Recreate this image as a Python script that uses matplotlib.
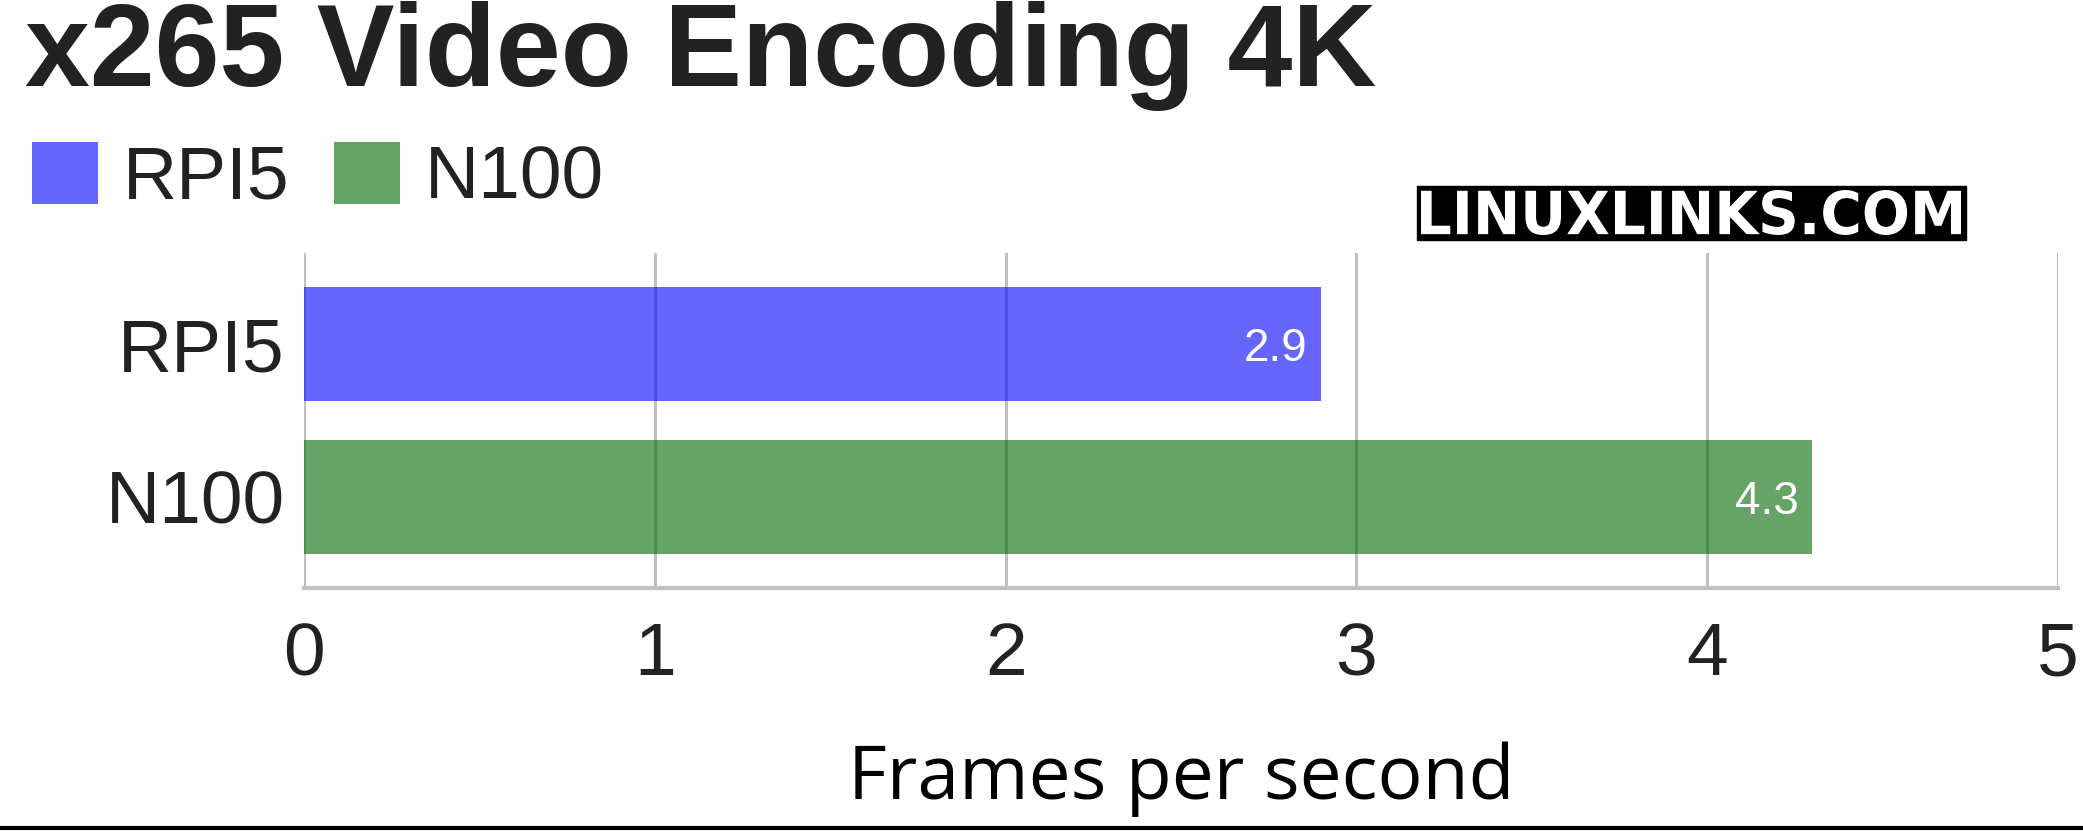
import matplotlib
matplotlib.use("Agg")
import matplotlib.pyplot as plt
from matplotlib.patches import Rectangle, PathPatch
from matplotlib.textpath import TextPath
from matplotlib.font_manager import FontProperties
from matplotlib.transforms import Affine2D

# data
systems = ["RPI5", "N100"]
fps = [2.9, 4.3]
colors = ["#0000ff", "#006600"]
xticks = [0, 1, 2, 3, 4, 5]

plt.rcParams["font.family"] = ["Liberation Sans", "DejaVu Sans"]
text_col = "#222222"
W, H = 2083, 831

fig = plt.figure(figsize=(W / 100, H / 100), dpi=100)
ax = fig.add_axes([304 / W, 1 - 588 / H, (2058 - 304) / W, (588 - 253) / H])

ypos = list(range(len(systems)))
bars = ax.barh(ypos, fps, height=0.75, color=colors, alpha=0.6, zorder=2)
for b, s in zip(bars, systems):
    b.set_label(s)

for y, v in zip(ypos, fps):
    ax.annotate(f"{v}", (v, y), xytext=(-10, 0), textcoords="offset points",
                ha="right", va="center_baseline", color="white", fontsize=33, zorder=3)

ax.set_xlim(0, 5)
ax.set_ylim(1.6, -0.6)
ax.set_xticks(xticks)
ax.set_yticks(ypos)
ax.set_yticklabels(systems)
ax.tick_params(axis="both", length=0, labelsize=54, colors=text_col)
ax.tick_params(axis="x", pad=24)
ax.tick_params(axis="y", pad=14)
ax.grid(axis="x", color="#c0c0c0", linewidth=2.2, zorder=1)
ax.set_axisbelow(True)
for side in ["top", "right", "left"]:
    ax.spines[side].set_visible(False)
ax.spines["bottom"].set_color("#c0c0c0")
ax.spines["bottom"].set_linewidth(3)

ax.set_xlabel("Frames per second", fontsize=54, family=["Open Sans", "DejaVu Sans"],
              color="black", labelpad=37)

fig.text(25 / W, 1 - 86 / H, "x265 Video Encoding 4K", fontsize=84,
         fontweight="bold", color=text_col, ha="left", va="baseline")

leg = fig.legend(handles=list(bars), loc="center left",
                 bbox_to_anchor=(32 / W, 1 - 178 / H), ncol=2, frameon=False,
                 fontsize=54, handlelength=0.88, handleheight=0.88,
                 handletextpad=0.33, columnspacing=0.6, borderpad=0, borderaxespad=0)
for t in leg.get_texts():
    t.set_color(text_col)

# watermark: black box with condensed bold text
fig.add_artist(Rectangle((1417 / W, 1 - 240 / H), 549 / W, 54 / H,
                         transform=fig.transFigure, color="black", zorder=5))
tp = TextPath((0, 0), "LINUXLINKS.COM", size=62,
              prop=FontProperties(family="DejaVu Sans", weight="bold"))
ext = tp.get_extents()
sx = 540 / ext.width
sy = 45 / ext.height
tr = Affine2D().translate(-ext.x0, -ext.y0).scale(sx, sy).translate(1421, H - 235)
fig.add_artist(PathPatch(tr.transform_path(tp), facecolor="white", edgecolor="none",
                         transform=None, zorder=6))

# bottom rule
fig.add_artist(plt.Line2D([0, 1], [1 - 827.5 / H, 1 - 827.5 / H],
                          transform=fig.transFigure, color="black", linewidth=3))

fig.savefig("out.png", dpi=100, facecolor="white")
